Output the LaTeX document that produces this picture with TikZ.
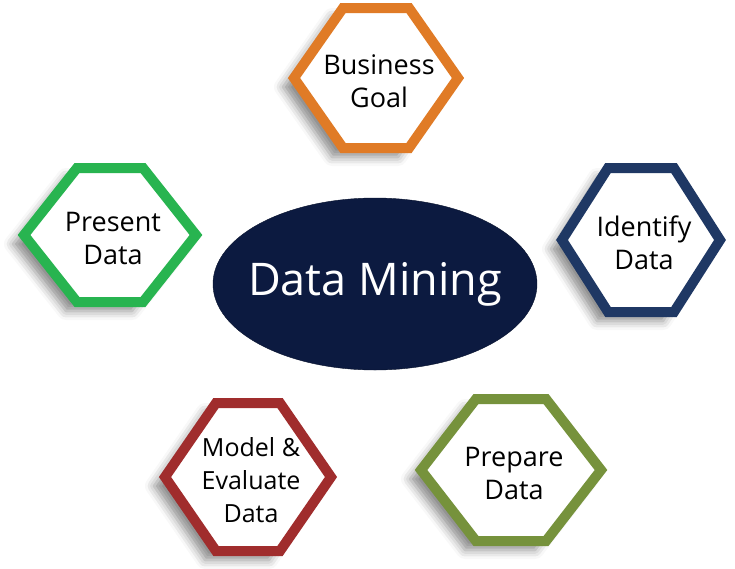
\documentclass[tikz,border=0pt]{standalone}
\usepackage{fontspec}
\setmainfont{Open Sans}
\usepackage{tikz}
\usetikzlibrary{shadows.blur}
\definecolor{goalc}{RGB}{224,123,38}
\definecolor{identc}{RGB}{31,56,100}
\definecolor{prepc}{RGB}{118,146,60}
\definecolor{modelc}{RGB}{160,45,45}
\definecolor{presc}{RGB}{40,180,80}
\definecolor{corec}{RGB}{12,26,64}
\tikzset{font=\fontsize{27}{34}\selectfont}
\tikzset{hexline/.style={line width=10pt, line join=miter, fill=white,
    blur shadow={shadow xshift=-11pt, shadow yshift=-9pt, shadow blur radius=9pt, shadow opacity=45}}}
\tikzset{hexlabel/.style={align=center, text=black, inner sep=0pt}}

\begin{document}
\begin{tikzpicture}[x=1pt,y=-1pt]
  \useasboundingbox (0,0) rectangle (735,568);

  \path[draw=corec!70!black, fill=corec] (375,284) ellipse [x radius=162, y radius=86];
  \node[text=white, font=\fontsize{45}{54}\selectfont] (mining) at (375,284) {Data Mining};

  \foreach \n/\cx/\cy/\hw/\hh/\tw/\col/\fs/\txt in {
      goal/376/78/82/70/33/goalc/27/{Business\\Goal},
      ident/641/240/79/72/33/identc/27/{Identify\\Data},
      prep/511/470/90/71/35/prepc/27/{Prepare\\Data},
      model/248/477/83/74/32/modelc/25/{Model \&\\Evaluate\\Data},
      pres/110/235/86/67/33/presc/27/{Present\\Data}}{
    \path[hexline, draw=\col] (\cx-\hw,\cy) -- (\cx-\tw,\cy-\hh) -- (\cx+\tw,\cy-\hh)
      -- (\cx+\hw,\cy) -- (\cx+\tw,\cy+\hh) -- (\cx-\tw,\cy+\hh) -- cycle;
    \node[hexlabel, font=\fontsize{\fs}{33}\selectfont] (\n) at (\cx+3,\cy+3) {\txt};
  };
\end{tikzpicture}
\end{document}
